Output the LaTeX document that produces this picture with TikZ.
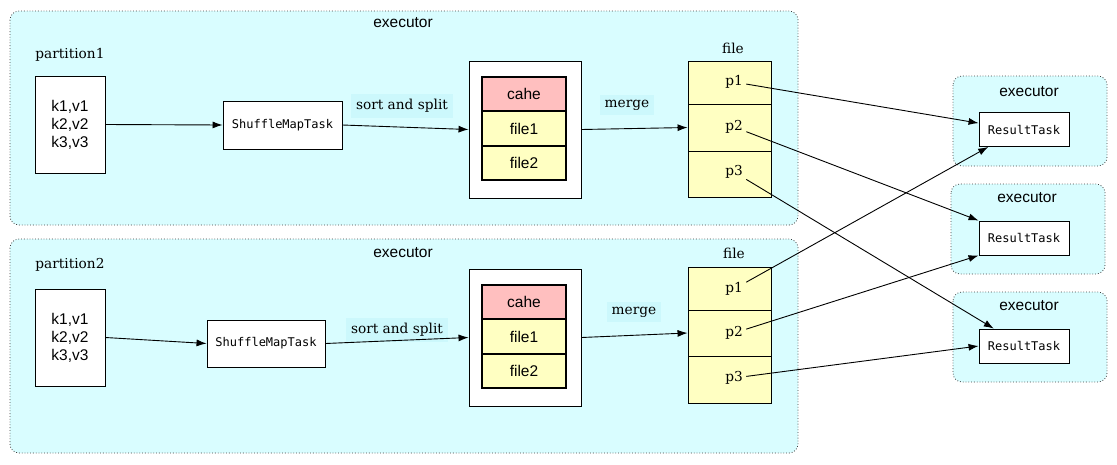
\documentclass[tikz,border=0pt]{standalone}
\usepackage{fontspec}
\usetikzlibrary{arrows.meta}
\newfontfamily\helv{Liberation Sans}
\newfontfamily\monof{DejaVu Sans Mono}
\newfontfamily\serf{DejaVu Serif}
\definecolor{execcyan}{HTML}{D9FDFF}
\definecolor{labcyan}{HTML}{CCF8FC}
\definecolor{cahered}{HTML}{FFBFBF}
\definecolor{fileyel}{HTML}{FFFFC2}
\tikzset{
  execbox/.style={draw=black!75, dotted, line width=0.8pt, fill=execcyan, rounded corners=9pt},
  exectitle/.style={font=\helv\fontsize{15.5}{18}\selectfont},
  serif/.style={font=\serf\fontsize{13.7}{16}\selectfont},
  actlabel/.style={serif, fill=labcyan, inner sep=5pt},
  kvbox/.style={draw, fill=white, line width=0.9pt, minimum width=70pt, minimum height=97pt,
    align=center, font=\helv\fontsize{15.5}{18}\selectfont},
  taskbox/.style={draw, fill=white, line width=0.9pt, minimum width=90pt, minimum height=34pt,
    font=\monof\fontsize{12}{14}\selectfont},
  storebox/.style={draw, fill=white, line width=0.9pt, minimum width=112pt, minimum height=137pt},
  cachecell/.style={draw, line width=1.3pt, fill=cahered, minimum width=84pt, minimum height=34pt,
    font=\helv\fontsize{15.5}{18}\selectfont},
  filecell/.style={cachecell, fill=fileyel},
  pcell/.style={draw, fill=fileyel, line width=0.9pt, minimum width=83pt},
  flow/.style={->, line width=0.9pt}
}
\begin{document}
\begin{tikzpicture}[x=1pt, y=-1pt, >={Latex[length=10pt,width=7pt]}]
  \useasboundingbox (0,0) rectangle (1117,464);

  % first executor
  \begin{scope}
    \draw[execbox] (10,11) rectangle (798,225);
    \node[exectitle] (ex1) at (403,23) {executor};
    \node[serif] (part1) at (70,55) {partition1};
    \node[kvbox] (kv1) at (70,124.5) {k1,v1\\k2,v2\\k3,v3};
    \node[taskbox, minimum width=119pt, minimum height=48pt] (smt1) at (282.5,125) {ShuffleMapTask};
    \node[actlabel] (sort1) at (402,106) {sort and split};
    \node[storebox] (store1) at (525,129.5) {};
    \node[filecell] (fa1) at (524,128.5) {file1};
    \node[cachecell] (ca1) at (524,94) {cahe};
    \node[filecell] (fb1) at (524,163) {file2};
    \node[actlabel] (merge1) at (627,105) {merge};
    \node[serif] (flab1) at (733,48) {file};
    \node[pcell, minimum height=43pt] (c11) at (729.5,82.5) {};
    \node[pcell, minimum height=47pt] (c12) at (729.5,127.5) {};
    \node[pcell, minimum height=46pt] (c13) at (729.5,174) {};
    \node[serif] (p11) at (734,82) {p1};
    \node[serif] (p12) at (734,127) {p2};
    \node[serif] (p13) at (734,172) {p3};
    \draw[flow] (kv1.east) -- (smt1.west);
    \draw[flow] (smt1.east) -- (store1.west);
    \draw[flow] (store1.east) -- (c12.west);
  \end{scope}

  % second executor
  \begin{scope}
    \draw[execbox] (10,239) rectangle (798,453);
    \node[exectitle] (ex2) at (403,253) {executor};
    \node[serif] (part2) at (70,265) {partition2};
    \node[kvbox] (kv2) at (70,337.5) {k1,v1\\k2,v2\\k3,v3};
    \node[taskbox, minimum width=118pt, minimum height=47pt] (smt2) at (266,343.5) {ShuffleMapTask};
    \node[actlabel] (sort2) at (397,330) {sort and split};
    \node[storebox] (store2) at (525,337.5) {};
    \node[filecell] (fa2) at (524,336.5) {file1};
    \node[cachecell] (ca2) at (524,302) {cahe};
    \node[filecell] (fb2) at (524,371) {file2};
    \node[actlabel] (merge2) at (634,312) {merge};
    \node[serif] (flab2) at (734,253) {file};
    \node[pcell, minimum height=43pt] (c21) at (729.5,288.5) {};
    \node[pcell, minimum height=46pt] (c22) at (729.5,333) {};
    \node[pcell, minimum height=47pt] (c23) at (729.5,379.5) {};
    \node[serif] (p21) at (734,289) {p1};
    \node[serif] (p22) at (734,333) {p2};
    \node[serif] (p23) at (734,378) {p3};
    \draw[flow] (kv2.east) -- (smt2.west);
    \draw[flow] (smt2.east) -- (store2.west);
    \draw[flow] (store2.east) -- (c22.west);
  \end{scope}

  % result executors
  \draw[execbox] (953,76) rectangle (1107,166);
  \node[exectitle] (ex3) at (1029,92) {executor};
  \node[taskbox] (rt1) at (1024,129.5) {ResultTask};
  \draw[execbox] (951,184) rectangle (1105,274);
  \node[exectitle] (ex4) at (1027,198) {executor};
  \node[taskbox] (rt2) at (1024,238) {ResultTask};
  \draw[execbox] (953,292) rectangle (1107,382);
  \node[exectitle] (ex5) at (1029,306) {executor};
  \node[taskbox] (rt3) at (1024,346) {ResultTask};

  % shuffle fetch
  \draw[flow] (p11) -- (rt1.172);
  \draw[flow] (p12) -- (rt2.north west);
  \draw[flow] (p13) -- (rt3.150);
  \draw[flow] (p21) -- (rt1.206);
  \draw[flow] (p22) -- (rt2.south west);
  \draw[flow] (p23) -- (rt3.west);
\end{tikzpicture}
\end{document}
